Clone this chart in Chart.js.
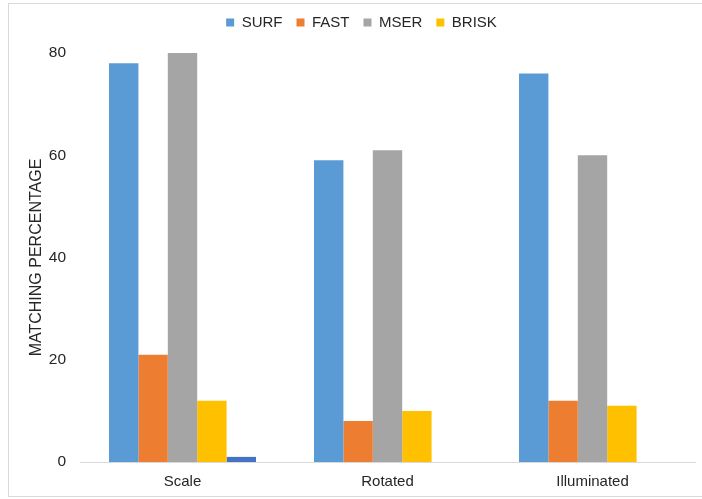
<!DOCTYPE html>
<html>
<head>
<meta charset="utf-8">
<script src="https://cdn.jsdelivr.net/npm/chart.js@4/dist/chart.umd.min.js"></script>
<style>
  html, body { margin: 0; padding: 0; background: #fff; }
  #wrap { width: 702px; height: 499px; position: relative; }
</style>
</head>
<body>
<div id="wrap"><canvas id="c" width="702" height="499"></canvas></div>
<script>
// Matching percentage per detector under each test condition
const categories = ['Scale', 'Rotated', 'Illuminated'];
const surf  = [78, 59, 76];
const fast  = [21, 8, 12];
const mser  = [80, 61, 60];
const brisk = [12, 10, 11];
const extra = [1, null, null];   // unlabelled fifth series
const yTicks = [0, 20, 40, 60, 80];

const FONT = 'Liberation Sans, Arial, Helvetica, sans-serif';
const TEXT = '#262626';

// Thin outer frame, extra room below the legend, legend nudged right
const framePlugin = {
  id: 'frame',
  beforeLayout(chart) {
    const lg = chart.legend;
    if (lg && !lg._extraGap) {
      const fit = lg.fit;
      lg.fit = function () { fit.call(this); this.height += 13; };
      lg._extraGap = true;
    }
  },
  afterLayout(chart) {
    const lg = chart.legend;
    if (lg) { lg.left += 14; lg.right += 14; }
  },
  beforeDraw(chart) {
    const ctx = chart.ctx;
    ctx.save();
    ctx.fillStyle = '#fff';
    ctx.fillRect(0, 0, chart.width, chart.height);
    ctx.strokeStyle = '#d9d9d9';
    ctx.lineWidth = 1;
    ctx.strokeRect(8.5, 3.5, chart.width + 10, 493);
    ctx.restore();
  }
};

new Chart(document.getElementById('c'), {
  type: 'bar',
  data: {
    labels: categories,
    datasets: [
      { label: 'SURF',  data: surf,  backgroundColor: '#5B9BD5' },
      { label: 'FAST',  data: fast,  backgroundColor: '#ED7D31' },
      { label: 'MSER',  data: mser,  backgroundColor: '#A5A5A5' },
      { label: 'BRISK', data: brisk, backgroundColor: '#FFC000' },
      { label: '',      data: extra, backgroundColor: '#4472C4' }
    ]
  },
  options: {
    responsive: false,
    animation: false,
    devicePixelRatio: 1,
    layout: { padding: { top: 1, right: 7, bottom: 0, left: 0 } },
    datasets: { bar: { categoryPercentage: 0.717, barPercentage: 1.0 } },
    plugins: {
      legend: {
        position: 'top',
        labels: {
          boxWidth: 8, boxHeight: 8, padding: 14,
          color: TEXT, font: { family: FONT, size: 15 },
          filter: (item) => item.text !== ''
        }
      },
      tooltip: { enabled: false }
    },
    scales: {
      x: {
        grid: { display: false, drawTicks: false },
        border: { display: true, color: '#d9d9d9', width: 1 },
        ticks: { color: TEXT, font: { family: FONT, size: 15 }, padding: 11 },
        afterFit(axis) { axis.height = 37; }
      },
      y: {
        min: 0, max: 80,
        grid: { display: false, drawTicks: false },
        border: { display: false },
        afterBuildTicks(axis) { axis.ticks = yTicks.map(v => ({ value: v })); },
        ticks: { color: TEXT, font: { family: FONT, size: 15.5 }, padding: 14 },
        title: {
          display: true, text: 'MATCHING PERCENTAGE', color: TEXT,
          font: { family: FONT, size: 16 }, padding: { top: 27, bottom: 0 }
        },
        afterFit(axis) { axis.width = 80; }
      }
    }
  },
  plugins: [framePlugin]
});
</script>
</body>
</html>
